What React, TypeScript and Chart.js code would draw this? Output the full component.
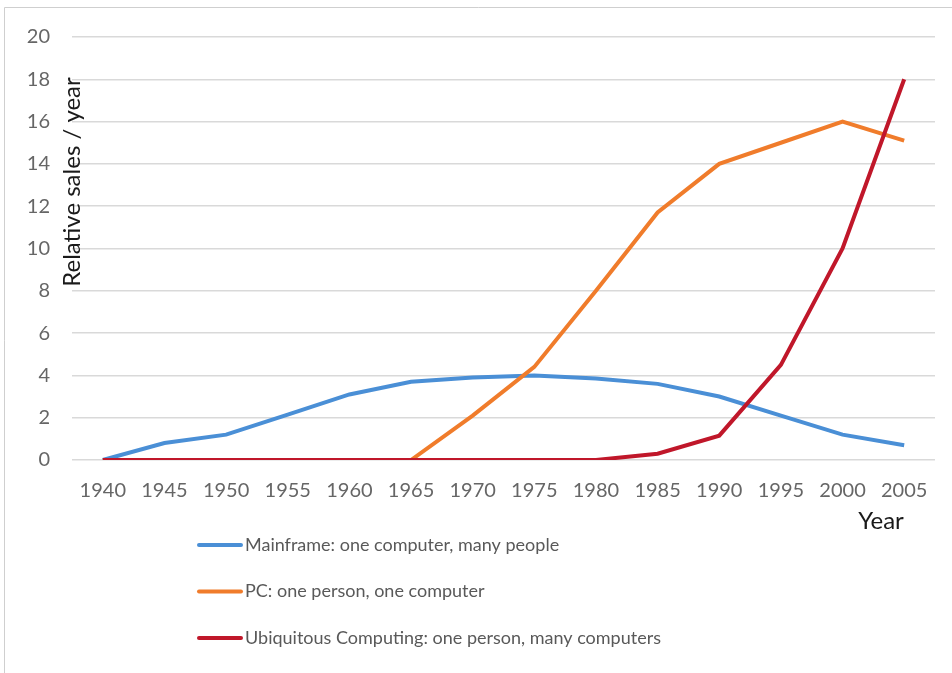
import React, { useEffect, useRef } from "react";
import { Chart, registerables } from "chart.js";

Chart.register(...registerables);

const years = ["1940", "1945", "1950", "1955", "1960", "1965", "1970", "1975", "1980", "1985", "1990", "1995", "2000", "2005"];
const mainframe = [0, 0.8, 1.2, 2.15, 3.1, 3.7, 3.9, 4.0, 3.85, 3.6, 3.0, 2.1, 1.2, 0.7];
const pc = [0, 0, 0, 0, 0, 0, 2.1, 4.4, 8.0, 11.7, 14.0, 15.0, 16.0, 15.1];
const ubiquitous = [0, 0, 0, 0, 0, 0, 0, 0, 0, 0.3, 1.15, 4.5, 10.0, 18.0];
const seriesNames = [
  "Mainframe: one computer, many people",
  "PC: one person, one computer",
  "Ubiquitous Computing: one person, many computers",
];
const seriesColors = ["#4a8fd6", "#f07c2b", "#c0172a"];
const yTitle = "Relative sales / year";
const xTitle = "Year";

const FONT = "Lato, 'Noto Sans', sans-serif";

const decorPlugin = {
  id: "decor",
  beforeDraw(chart: any) {
    const ctx = chart.ctx;
    ctx.save();
    ctx.strokeStyle = "#cfcfcf";
    ctx.lineWidth = 1;
    ctx.beginPath();
    ctx.moveTo(4.5, 673);
    ctx.lineTo(4.5, 7.5);
    ctx.lineTo(952, 7.5);
    ctx.stroke();
    ctx.restore();
  },
  afterDraw(chart: any) {
    const ctx = chart.ctx;
    const area = chart.chartArea;
    ctx.save();
    // y title
    ctx.fillStyle = "#1a1a1a";
    ctx.font = `24px ${FONT}`;
    ctx.textAlign = "center";
    ctx.textBaseline = "middle";
    ctx.translate(area.left, area.top + 145);
    ctx.rotate(-Math.PI / 2);
    ctx.fillText(yTitle, 0, 0);
    ctx.restore();

    ctx.save();
    ctx.fillStyle = "#1a1a1a";
    ctx.font = `24px ${FONT}`;
    ctx.textAlign = "center";
    ctx.textBaseline = "middle";
    ctx.fillText(xTitle, 881, area.bottom + 61);
    ctx.restore();

    // legend
    ctx.save();
    chart.data.datasets.forEach((ds: any, i: number) => {
      const y = 545 + i * 46.5;
      ctx.strokeStyle = ds.borderColor;
      ctx.lineWidth = 4;
      ctx.lineCap = "round";
      ctx.beginPath();
      ctx.moveTo(199, y);
      ctx.lineTo(241, y);
      ctx.stroke();
      ctx.fillStyle = "#595959";
      ctx.font = `18px ${FONT}`;
      ctx.textAlign = "left";
      ctx.textBaseline = "middle";
      ctx.fillText(ds.label, 245, y);
    });
    ctx.restore();
  },
};

export default function App() {
  const ref = useRef<HTMLCanvasElement>(null);
  useEffect(() => {
    if (!ref.current) return;
    const data = [mainframe, pc, ubiquitous];
    const chart = new Chart(ref.current, {
      type: "line",
      data: {
        labels: years,
        datasets: data.map((d, i) => ({
          label: seriesNames[i],
          data: d,
          borderColor: seriesColors[i],
          backgroundColor: seriesColors[i],
          borderWidth: 4,
          pointRadius: 0,
          tension: 0,
          fill: false,
          order: 3 - i,
        })),
      },
      options: {
        animation: false,
        responsive: false,
        layout: { padding: { top: 37, right: 17, left: 0, bottom: 163 } },
        plugins: { legend: { display: false }, tooltip: { enabled: false } },
        scales: {
          x: {
            offset: true,
            grid: { display: false, drawTicks: false },
            border: { display: false },
            ticks: {
              color: "#666666",
              font: { family: FONT, size: 20 },
              padding: 19,
              maxRotation: 0,
              autoSkip: false,
            },
            afterFit(scale: any) {
              scale.height = 50;
            },
          },
          y: {
            min: 0,
            max: 20,
            grid: { color: "#d9d9d9", lineWidth: 1.5, drawTicks: false },
            border: { display: false },
            ticks: {
              stepSize: 2,
              color: "#666666",
              font: { family: FONT, size: 20 },
              padding: 22,
            },
            afterFit(scale: any) {
              scale.width = 72;
            },
          },
        },
      },
      plugins: [decorPlugin],
    });
    return () => chart.destroy();
  }, []);
  return (
    <div style={{ position: "absolute", left: 0, top: 0, width: 952, height: 673, background: "#fff" }}>
      <canvas ref={ref} width={952} height={673} />
    </div>
  );
}
